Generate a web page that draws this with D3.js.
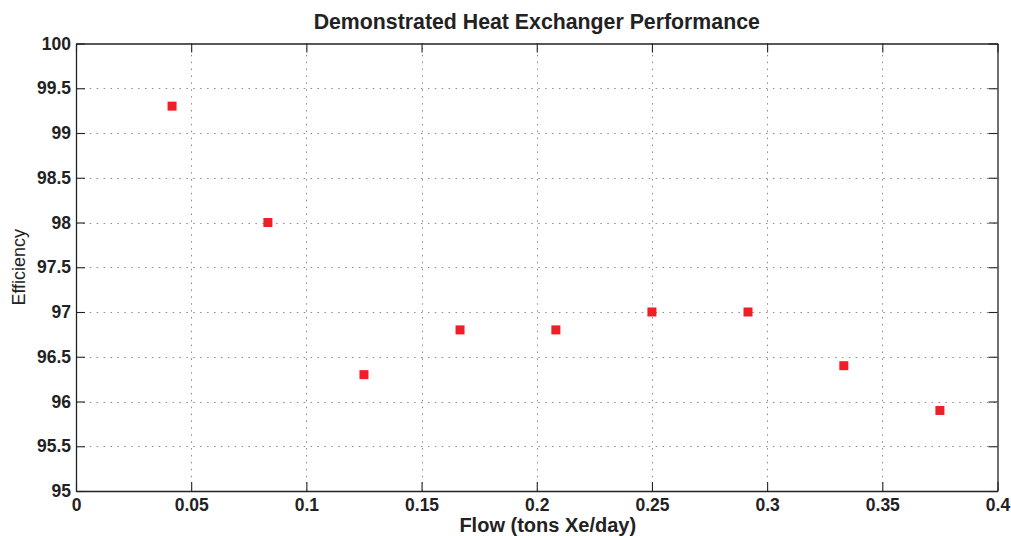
<!DOCTYPE html>
<html><head><meta charset="utf-8">
<script src="https://cdn.jsdelivr.net/npm/d3@7"></script>
<style>
body{margin:0;background:#fff;}
text{font-family:"Liberation Sans",Arial,Helvetica,sans-serif;fill:#222;}
</style></head>
<body><svg id="c" width="1011" height="536"></svg>
<script>
const flow = [0.0417, 0.0833, 0.125, 0.1667, 0.2083, 0.25, 0.2917, 0.3333, 0.375];
const efficiency = [99.3, 98.0, 96.3, 96.8, 96.8, 97.0, 97.0, 96.4, 95.9];
const xTicks = [0, 0.05, 0.1, 0.15, 0.2, 0.25, 0.3, 0.35, 0.4];
const yTicks = [95, 95.5, 96, 96.5, 97, 97.5, 98, 98.5, 99, 99.5, 100];
const title = "Demonstrated Heat Exchanger Performance";
const xLabel = "Flow (tons Xe/day)";
const yLabel = "Efficiency";

const L = 76, R = 997.5, T = 43.5, B = 491;
const svg = d3.select("#c");
const x = d3.scaleLinear().domain([0, 0.4]).range([L, R]);
const y = d3.scaleLinear().domain([95, 100]).range([B, T]);

// grid
const grid = svg.append("g").attr("stroke", "#8a8a8a").attr("stroke-width", 1).attr("stroke-dasharray", "1.5,5.4");
grid.selectAll(".gx").data(xTicks.slice(1, -1)).enter().append("line")
  .attr("x1", d => Math.round(x(d)) + 0.5).attr("x2", d => Math.round(x(d)) + 0.5)
  .attr("y1", B).attr("y2", T);
grid.selectAll(".gy").data(yTicks.slice(1, -1)).enter().append("line")
  .attr("y1", d => Math.round(y(d)) + 0.5).attr("y2", d => Math.round(y(d)) + 0.5)
  .attr("x1", L).attr("x2", R);

// axes
const fmt = d => String(+d.toFixed(2));
const tickLen = 9;
const xb = svg.append("g").attr("transform", `translate(0,${B})`)
  .call(d3.axisBottom(x).tickValues(xTicks).tickFormat(fmt).tickSizeInner(-tickLen).tickSizeOuter(0).tickPadding(14));
const xt = svg.append("g").attr("transform", `translate(0,${T})`)
  .call(d3.axisTop(x).tickValues(xTicks).tickFormat("").tickSizeInner(-tickLen).tickSizeOuter(0));
const yl = svg.append("g").attr("transform", `translate(${L},0)`)
  .call(d3.axisLeft(y).tickValues(yTicks).tickFormat(fmt).tickSizeInner(-tickLen).tickSizeOuter(0).tickPadding(14));
const yr = svg.append("g").attr("transform", `translate(${R},0)`)
  .call(d3.axisRight(y).tickValues(yTicks).tickFormat("").tickSizeInner(-tickLen).tickSizeOuter(0));
[xb, xt, yl, yr].forEach(g => {
  g.selectAll("path").attr("stroke", "#222").attr("stroke-width", 1.3);
  g.selectAll("line").attr("stroke", "#222").attr("stroke-width", 1.1);
  g.selectAll("text").attr("font-family", '"Liberation Sans",Arial,sans-serif')
    .attr("font-size", 17.5).attr("font-weight", "bold").attr("fill", "#222");
});
xb.selectAll("text").attr("dy", "0.71em").attr("y", 7.5);
yl.selectAll("text").attr("x", -5);

// points
const ms = 9;
svg.append("g").selectAll("rect").data(flow).enter().append("rect")
  .attr("x", (d) => x(d) - ms / 2)
  .attr("y", (d, i) => y(efficiency[i]) - ms / 2)
  .attr("width", ms).attr("height", ms)
  .attr("fill", "#ee1f26");

// title and labels
svg.append("text").attr("x", (L + R) / 2).attr("y", 29).attr("text-anchor", "middle")
  .attr("font-size", 21.3).attr("font-weight", "bold").text(title);
svg.append("text").attr("x", (L + R) / 2 + 11).attr("y", 531.5).attr("text-anchor", "middle")
  .attr("font-size", 20).attr("font-weight", "bold").text(xLabel);
svg.append("text").attr("transform", `translate(25,${(T + B) / 2}) rotate(-90)`).attr("text-anchor", "middle")
  .attr("font-size", 18).text(yLabel);
</script></body></html>
